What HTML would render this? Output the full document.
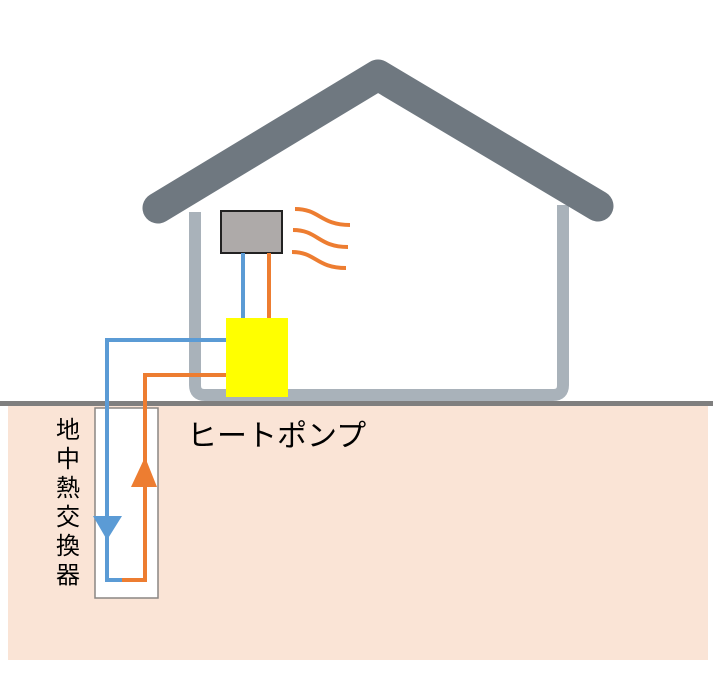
<!DOCTYPE html>
<html><head><meta charset="utf-8"><style>
body{margin:0;background:#fff;width:721px;height:669px;overflow:hidden;}
</style></head><body>
<svg width="721" height="669" viewBox="0 0 721 669" xmlns="http://www.w3.org/2000/svg">
<rect x="8" y="405" width="700" height="255" fill="#fae4d6"/>
<path d="M195 212 V385 Q195 395 205 395 H553 Q563 395 563 385 V205" fill="none" stroke="#a9b2ba" stroke-width="12"/>
<path d="M158 208 L378 75 L598 206" fill="none" stroke="#6f7880" stroke-width="31" stroke-linecap="round" stroke-linejoin="round"/>
<rect x="221" y="211" width="61" height="42" fill="#aeaaa9" stroke="#222" stroke-width="2"/>
<g fill="none" stroke="#ed7d31" stroke-width="4">
<path d="M295 209 C320 209 320 225 350 225"/>
<path d="M293 230 C318 230 318 247 348 247"/>
<path d="M292 252 C316 252 316 268 346 268"/>
</g>
<line x1="243" y1="253" x2="243" y2="318" stroke="#5b9bd5" stroke-width="4"/>
<line x1="269" y1="253" x2="269" y2="318" stroke="#ed7d31" stroke-width="4"/>
<rect x="226" y="318" width="62" height="79" fill="#ffff00"/>
<rect x="0" y="401" width="713" height="5" fill="#7f7f7f"/>
<rect x="95" y="408" width="63" height="190" fill="#fff" stroke="#8a8683" stroke-width="1.5"/>
<polyline points="226,340 107,340 107,580 122,580" fill="none" stroke="#5b9bd5" stroke-width="4"/>
<polyline points="226,375 145,375 145,580 122,580" fill="none" stroke="#ed7d31" stroke-width="4"/>
<polygon points="93,516 122,516 107,540" fill="#5b9bd5"/>
<polygon points="131,487 157,487 145,457" fill="#ed7d31"/>
<g font-family="'Liberation Sans','Noto Sans CJK JP',sans-serif" font-size="24" fill="#000">
<text x="56" y="438">地</text><text x="56" y="467">中</text><text x="56" y="496">熱</text>
<text x="56" y="525">交</text><text x="56" y="554">換</text><text x="56" y="583">器</text>
</g>
<text x="187" y="446" font-family="'Liberation Sans','Noto Sans CJK JP',sans-serif" font-size="30" fill="#000">ヒートポンプ</text>
</svg>
</body></html>
